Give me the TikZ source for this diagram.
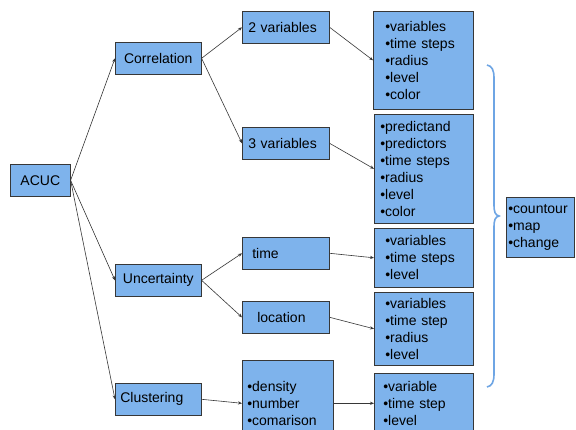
\documentclass[tikz,border=0pt]{standalone}
\usepackage{fontspec}
\setmainfont{Liberation Sans}
\usetikzlibrary{arrows.meta}
\definecolor{boxfill}{RGB}{126,179,236}
\definecolor{boxline}{RGB}{55,55,55}
\definecolor{bracecol}{RGB}{110,165,228}
\tikzset{
  box/.style={draw=boxline, fill=boxfill, line width=0.6pt, anchor=north west,
    inner ysep=0pt, font=\fontsize{14}{17}\selectfont, align=left},
  conn/.style={draw=boxline, line width=0.6pt, -{Stealth[length=4pt,width=3.2pt]}},
  bracestyle/.style={draw=bracecol, line width=1.6pt}
}
\begin{document}
\begin{tikzpicture}[x=1pt,y=-1pt]
\clip (0,0) rectangle (576,430);
\fill[white] (0,0) rectangle (576,430);
% level 0
\node[box, minimum width=60pt, minimum height=32pt, text width=56pt, inner xsep=2pt, align=center] (acuc) at (10,164) {ACUC};
% level 1
\node[box, minimum width=86pt, minimum height=32pt, text width=82pt, inner xsep=2pt, align=center] (corr) at (115,42) {Correlation};
\node[box, minimum width=86pt, minimum height=32pt, text width=82pt, inner xsep=2pt, align=center] (unc) at (115,264) {Uncertainty};
\node[box, minimum width=86pt, minimum height=32pt, text width=76pt, inner xsep=5pt] (clu) at (115,383) {Clustering};
% level 2
\node[box, minimum width=87pt, minimum height=32pt, text width=75pt, inner xsep=6pt] (two) at (242,11) {2 variables};
\node[box, minimum width=87pt, minimum height=32pt, text width=75pt, inner xsep=6pt] (three) at (242,127) {3 variables};
\node[box, minimum width=87pt, minimum height=32pt, text width=67pt, inner xsep=10pt] (time) at (242,237) {time};
\node[box, minimum width=87pt, minimum height=32pt, text width=57pt, inner xsep=15pt] (loc) at (242,301) {location};
\node[box, minimum width=91pt, minimum height=86pt, text width=81pt, inner xsep=5pt] (dens) at (242,360) {•density\\•number\\•comarison};
% level 3
\node[box, minimum width=100pt, minimum height=98pt, text width=76pt, inner xsep=12pt] (boxa) at (373,11) {•variables\\•time steps\\•radius\\•level\\•color};
\node[box, minimum width=99pt, minimum height=109pt, text width=87pt, inner xsep=6pt] (boxb) at (374,114) {•predictand\\•predictors\\•time steps\\•radius\\•level\\•color};
\node[box, minimum width=99pt, minimum height=59pt, text width=77pt, inner xsep=11pt] (boxc) at (374,228) {•variables\\•time steps\\•level};
\node[box, minimum width=99pt, minimum height=73pt, text width=77pt, inner xsep=11pt] (boxd) at (374,292) {•variables\\•time step\\•radius\\•level};
\node[box, minimum width=99pt, minimum height=60pt, text width=81pt, inner xsep=9pt] (boxe) at (374,373) {•variable\\•time step\\•level};
% result
\node[box, minimum width=68pt, minimum height=60pt, text width=64pt, inner xsep=2pt] (res) at (506,197) {•countour\\•map\\•change};
% brace
\draw[bracestyle] (487,65) .. controls (492,66) and (494,70) .. (494,78)
  -- (494,204) .. controls (494,212) and (495,215) .. (499,216)
  .. controls (495,217) and (494,220) .. (494,228)
  -- (494,374) .. controls (494,382) and (492,386) .. (487,387);
% connectors
\draw[conn] (acuc.east) -- (corr.west);
\draw[conn] (acuc.east) -- (unc.west);
\draw[conn] (acuc.east) -- (clu.west);
\draw[conn] (corr.east) -- (two.west);
\draw[conn] (corr.east) -- (three.west);
\draw[conn] (unc.east) -- (time.west);
\draw[conn] (unc.east) -- (loc.west);
\draw[conn] (clu.east) -- (dens.west);
\draw[conn] (two.east) -- (boxa.west);
\draw[conn] (three.east) -- (boxb.west);
\draw[conn] (time.east) -- (boxc.west);
\draw[conn] (loc.east) -- (boxd.west);
\draw[conn] (dens.east) -- (boxe.west);
\end{tikzpicture}
\end{document}
